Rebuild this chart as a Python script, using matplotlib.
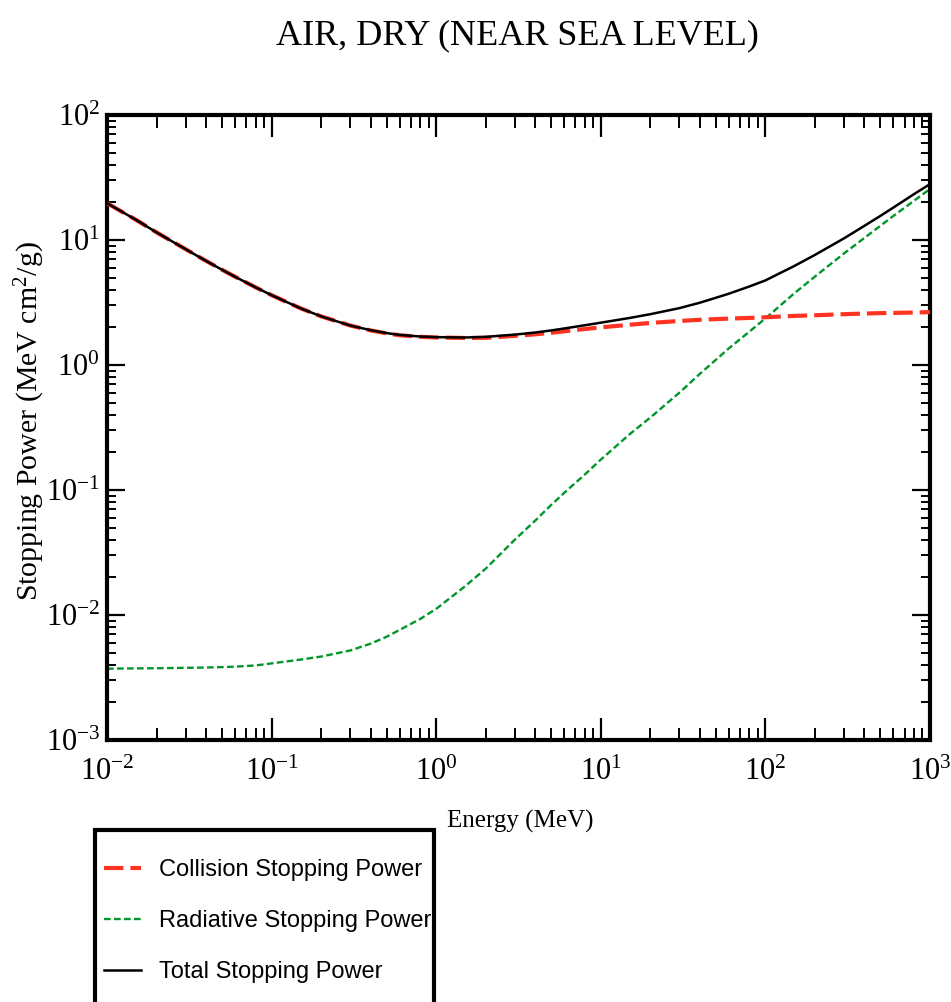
import matplotlib
matplotlib.use("Agg")
import matplotlib.pyplot as plt
from matplotlib.ticker import LogLocator, LogFormatterMathtext, NullFormatter
from matplotlib.patches import Rectangle

# ---------------- data ----------------
energy = [0.01, 0.015, 0.02, 0.03, 0.04, 0.05, 0.06, 0.08, 0.1, 0.15, 0.2, 0.3,
          0.4, 0.5, 0.6, 0.8, 1, 1.5, 2, 3, 4, 5, 6, 8, 10, 15, 20, 30, 40, 50,
          60, 80, 100, 150, 200, 300, 400, 500, 600, 800, 1000]

collision = [19.7, 14.5, 11.5, 8.45, 6.8, 5.78, 5.08, 4.18, 3.62, 2.84, 2.45, 2.07,
             1.89, 1.79, 1.73, 1.68, 1.66, 1.645, 1.65, 1.71, 1.76, 1.81, 1.86, 1.94,
             2.00, 2.10, 2.17, 2.25, 2.30, 2.33, 2.35, 2.38, 2.41, 2.47, 2.50, 2.55,
             2.58, 2.60, 2.61, 2.63, 2.65]

radiative = [3.72e-3, 3.74e-3, 3.75e-3, 3.78e-3, 3.80e-3, 3.83e-3, 3.86e-3, 3.95e-3,
             4.1e-3, 4.4e-3, 4.65e-3, 5.2e-3, 5.9e-3, 6.7e-3, 7.6e-3, 9.3e-3, 0.0112,
             0.0170, 0.0235, 0.040, 0.057, 0.076, 0.095, 0.133, 0.175, 0.28, 0.38,
             0.60, 0.85, 1.10, 1.36, 1.85, 2.36, 3.75, 5.1, 7.8, 10.4, 13.0, 15.6,
             20.6, 25.6]

total = [19.7, 14.5, 11.5, 8.45, 6.8, 5.78, 5.08, 4.18, 3.62, 2.84, 2.45, 2.07,
         1.90, 1.80, 1.74, 1.69, 1.67, 1.66, 1.68, 1.75, 1.82, 1.89, 1.96, 2.08,
         2.18, 2.38, 2.55, 2.85, 3.15, 3.45, 3.72, 4.25, 4.75, 6.2, 7.6, 10.3,
         13.0, 15.6, 18.2, 23.3, 28.0]

title = "AIR, DRY (NEAR SEA LEVEL)"
xlabel = "Energy (MeV)"
ylabel = "Stopping Power (MeV cm$^{2}$/g)"
labels = ["Collision Stopping Power", "Radiative Stopping Power", "Total Stopping Power"]

# ---------------- style ----------------
plt.rcParams['font.family'] = ['Liberation Serif', 'DejaVu Serif']
plt.rcParams['mathtext.fontset'] = 'custom'
plt.rcParams['mathtext.rm'] = 'Liberation Serif'
plt.rcParams['mathtext.it'] = 'Liberation Serif:italic'
plt.rcParams['mathtext.default'] = 'regular'
plt.rcParams['lines.scale_dashes'] = False

W, H = 951, 1002
fig = plt.figure(figsize=(W / 100, H / 100), dpi=100)
L, R, T, B = 107, 930, 115, 740
ax = fig.add_axes([L / W, 1 - B / H, (R - L) / W, (B - T) / H])

red = '#ff3322'
green = '#00962a'

l_rad, = ax.plot(energy, radiative, color=green, lw=1.7, dashes=(4.8, 2.4), zorder=2)
l_col, = ax.plot(energy, collision, color=red, lw=3.0, dashes=(14, 5), zorder=3)
l_tot, = ax.plot(energy, total, color='black', lw=1.8, zorder=4)

ax.set_xscale('log')
ax.set_yscale('log')
ax.set_xlim(1e-2, 1e3)
ax.set_ylim(1e-3, 1e2)

for axis in (ax.xaxis, ax.yaxis):
    axis.set_major_locator(LogLocator(base=10, numticks=20))
    axis.set_minor_locator(LogLocator(base=10, subs=range(2, 10), numticks=20))
    axis.set_major_formatter(LogFormatterMathtext())
    axis.set_minor_formatter(NullFormatter())

for s in ax.spines.values():
    s.set_linewidth(3.0)

ax.tick_params(axis='both', which='both', direction='in', top=True, right=True,
               labelsize=22, colors='black')
ax.tick_params(axis='x', which='major', length=16, width=1.6, pad=13)
ax.tick_params(axis='x', which='minor', length=9, width=1.4)
ax.tick_params(axis='y', which='major', length=13, width=1.6, pad=5)
ax.tick_params(axis='y', which='minor', length=6.5, width=1.4)

ax.set_xlabel(xlabel, fontsize=18)
ax.xaxis.set_label_coords((520 - L) / (R - L), (B - 810) / (B - T))
ax.set_ylabel(ylabel, fontsize=21.5)
ax.yaxis.set_label_coords((47 - L) / (R - L), 0.51)

fig.text(517 / W, 1 - 36 / H, title, ha='center', va='center', fontsize=26)

# legend box (open at the bottom edge of the image)
fig.patches.append(Rectangle((95 / W, -0.06), (434 - 95) / W, (H - 830) / H + 0.06,
                             transform=fig.transFigure, fill=False,
                             edgecolor='black', lw=3.0))
leg = fig.legend([l_col, l_rad, l_tot], labels, loc='upper left',
                 bbox_to_anchor=(104 / W, 1 - 859 / H), frameon=False,
                 borderpad=0, borderaxespad=0, handlelength=1.55,
                 handletextpad=0.8, labelspacing=1.23,
                 prop={'family': ['Liberation Sans', 'DejaVu Sans'], 'size': 17})

fig.savefig('out.png', dpi=100)
